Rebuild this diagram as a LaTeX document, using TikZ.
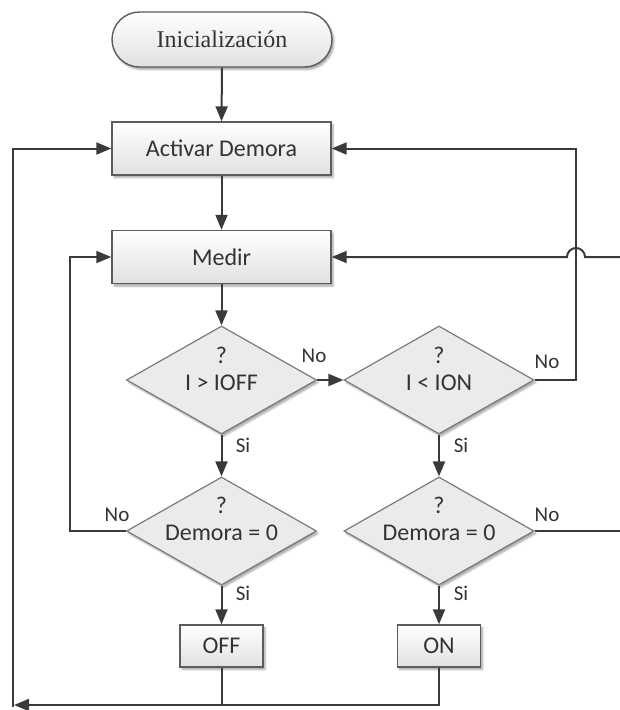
\documentclass[tikz,border=0pt]{standalone}
\usepackage{fontspec}
\setmainfont{Liberation Serif}
\newfontfamily\calib{Carlito}
\usetikzlibrary{shapes.geometric,shapes.misc,arrows.meta,shadows.blur}
\definecolor{lnc}{HTML}{3A3A3A}
\definecolor{boxborder}{HTML}{5C5C5C}
\definecolor{diaborder}{HTML}{7A7A7A}
\definecolor{diafill}{HTML}{EBEBEB}
\definecolor{txt}{HTML}{333333}
\tikzset{
  shad/.style={blur shadow={shadow xshift=2pt, shadow yshift=-2.5pt, shadow blur steps=6, shadow opacity=35}},
  stepbox/.style={draw=boxborder, line width=1.4pt, top color=white, bottom color=black!12,
    minimum width=219pt, minimum height=53pt, inner sep=0pt,
    font=\calib\fontsize{24}{28}\selectfont, text=txt, shad},
  smallbox/.style={stepbox, minimum width=83pt, minimum height=42pt},
  termbox/.style={rounded rectangle, draw=boxborder, line width=1.4pt, top color=white, bottom color=black!12,
    minimum width=220pt, minimum height=55pt, inner sep=0pt,
    font=\fontsize{24}{28}\selectfont, text=txt, shad},
  dia/.style={diamond, draw=diaborder, line width=1.2pt, fill=diafill,
    minimum width=190pt, minimum height=108pt, inner sep=0pt, shad},
  dtext/.style={align=center, inner sep=0pt, font=\calib\fontsize{24}{27}\selectfont, text=txt},
  lbl/.style={inner sep=0pt, font=\calib\fontsize{21}{24}\selectfont, text=txt},
  conn/.style={draw=lnc, line width=2pt},
  arr/.style={conn, -{Triangle[length=15pt,width=12pt]}},
}
\begin{document}
\begin{tikzpicture}[x=1pt,y=-1pt]
\useasboundingbox (0,0) rectangle (620,710);

% nodes
\node[termbox] (init) at (222,39.5) {Inicialización};
\node[stepbox] (act) at (221.5,148.5) {Activar Demora};
\node[stepbox] (med) at (221.5,257) {Medir};
\node[dia] (d1) at (221.5,380) {};
\node[dtext] at ([yshift=11pt]d1.center) {?\\I > IOFF};
\node[dia] (d2) at (439,380) {};
\node[dtext] at ([yshift=11pt]d2.center) {?\\I < ION};
\node[dia] (d3) at (221.5,531) {};
\node[dtext] at ([yshift=12pt]d3.center) {?\\Demora = 0};
\node[dia] (d4) at (439,531) {};
\node[dtext] at ([yshift=12pt]d4.center) {?\\Demora = 0};
\node[smallbox] (off) at (221.5,646) {OFF};
\node[smallbox] (on) at (439,646) {ON};

% helper coordinates
\coordinate (lx) at (70,400);
\coordinate (rx) at (576,300);
\coordinate (re) at (620,531);
\coordinate (ri) at (620,257);
\coordinate (bl) at (13,705);
\coordinate (hopR) at (585,257);

% connectors
\draw[arr] (init.south) -- (act.north);
\draw[arr] (act.south) -- (med.north);
\draw[arr] (med.south) -- (d1.north);
\draw[arr] (d1.east) -- (d2.west);
\draw[arr] (d1.south) -- (d3.north);
\draw[arr] (d2.south) -- (d4.north);
\draw[arr] (d3.south) -- (off.north);
\draw[arr] (d4.south) -- (on.north);
\draw[arr] (d3.west) -| (lx) |- (med.west);
\draw[arr] (d2.east) -| (rx) |- (act.east);
\draw[conn] (d4.east) -- (re);
\draw[arr] (ri) -- (hopR) arc[start angle=0, end angle=180, radius=9pt] -- (med.east);
\draw[conn] (off.south) -- (off.south |- bl);
\draw[arr] (on.south) |- ([xshift=1pt]bl);
\draw[arr] ([yshift=-2pt]bl) |- (act.west);

% labels
\node[lbl] at (314,356) {No};
\node[lbl] at (243,445) {Si};
\node[lbl] at (547,362) {No};
\node[lbl] at (461,445) {Si};
\node[lbl] at (117,515) {No};
\node[lbl] at (243,593) {Si};
\node[lbl] at (547,515) {No};
\node[lbl] at (461,593) {Si};
\end{tikzpicture}
\end{document}
